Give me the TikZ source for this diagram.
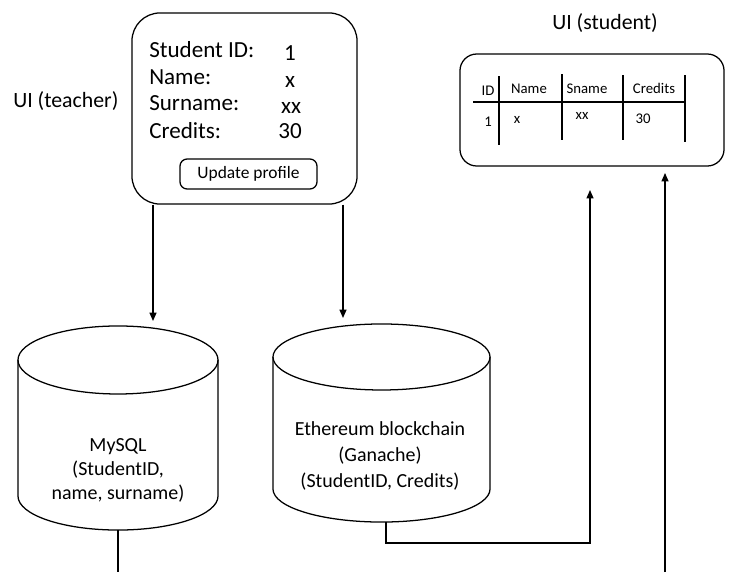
\documentclass[tikz,border=0pt]{standalone}
\usepackage{fontspec}
\setmainfont{Carlito}
\usetikzlibrary{positioning,arrows.meta}
\tikzset{
    uibox/.style={draw, line width=0.9pt},
    btn/.style={draw, line width=0.9pt, rounded corners=0.18cm, minimum width=3.425cm, minimum height=0.75cm, font=\fontsize{12.4}{14}\selectfont},
    db/.style={inner sep=0pt, outer sep=0pt},
    field/.style={anchor=base west, inner sep=0pt, font=\fontsize{16.4}{19}\selectfont},
    value/.style={anchor=base, inner sep=0pt, font=\fontsize{16.4}{19}\selectfont},
    cell/.style={anchor=base, inner sep=0pt, font=\fontsize{10.5}{12}\selectfont},
    dbtext/.style={align=center, inner sep=0pt, font=\fontsize{14.2}{17}\selectfont},
    uilabel/.style={anchor=base west, inner sep=0pt, font=\fontsize{15.5}{18}\selectfont},
    arrow/.style={line width=0.9pt, -{Triangle[length=6pt,width=5pt]}}
}
% outline of a database drum round a named node: name, x radius, y radius
\newcommand{\dbdrum}[3]{%
    \draw[line width=0.9pt] ([yshift=-#3]#1.north west) -- ([yshift=#3]#1.south west)
        arc[start angle=180, end angle=360, x radius=#2, y radius=#3]
        -- ([yshift=-#3]#1.north east);
    \draw[line width=0.9pt] ([yshift=-#3]#1.north) ellipse[x radius=#2, y radius=#3];
}
\begin{document}
\begin{tikzpicture}[x=0.025cm, y=-0.025cm]
    \useasboundingbox (0,0) rectangle (734,572);

    % teacher side
    \node[uilabel] (uiteacher) at (13,107) {UI (teacher)};
    \node[uibox, rounded corners=0.7cm, minimum width=5.625cm, minimum height=4.775cm] (teacher) at (244.5,108.5) {};
    \node[field] (fid) at (149,57) {Student ID:};
    \node[field] (fname) at (149,84) {Name:};
    \node[field] (fsname) at (149,110) {Surname:};
    \node[field] (fcred) at (149,138) {Credits:};
    \node[value] (vid) at (290,60) {1};
    \node[value] (vname) at (290,87) {x};
    \node[value] (vsname) at (291,113) {xx};
    \node[value] (vcred) at (290,138) {30};
    \node[btn] (update) at (248.5,174) {Update profile};

    % student side
    \node[uilabel] (uistudent) at (552,29) {UI (student)};
    \node[uibox, rounded corners=0.42cm, minimum width=6.6cm, minimum height=2.8cm] (student) at (592,110) {};
    \draw[line width=0.9pt] (473,102) -- (685,102);
    \draw[line width=0.9pt] (499,76) -- (499,145);
    \draw[line width=0.9pt] (562,74) -- (562,140);
    \draw[line width=0.9pt] (623,75) -- (623,140);
    \draw[line width=0.9pt] (685,75) -- (685,142);
    \node[cell] (hid) at (488,95) {ID};
    \node[cell] (hname) at (529,93) {Name};
    \node[cell] (hsname) at (587,93) {Sname};
    \node[cell] (hcred) at (654,93) {Credits};
    \node[cell] (cid) at (488,126) {1};
    \node[cell] (cname) at (517,123) {x};
    \node[cell] (csname) at (582,119) {xx};
    \node[cell] (ccred) at (643,123) {30};

    % storage
    \node[db, minimum width=5cm, minimum height=5.1cm] (mysql) at (118,428) {};
    \dbdrum{mysql}{2.5cm}{0.85cm}
    \node[dbtext] (mysqltext) at (118,470) {MySQL\\(StudentID,\\name, surname)};
    \node[db, minimum width=5.425cm, minimum height=4.95cm] (eth) at (381.5,423) {};
    \dbdrum{eth}{2.7125cm}{0.825cm}
    \node[dbtext, font=\fontsize{14.2}{18.5}\selectfont] (ethtext) at (380,456) {Ethereum blockchain\\(Ganache)\\(StudentID, Credits)};

    % connectors
    \coordinate (mysqlin) at (153,321);
    \coordinate (ethin) at (343,318);
    \coordinate (ethout) at (386,0);
    \coordinate (stuin) at (590,190);
    \coordinate (stuin2) at (665,173);
    \coordinate (below1) at (118,572);
    \coordinate (below2) at (665,572);

    \draw[arrow] (teacher.south -| mysqlin) -- (mysqlin);
    \draw[arrow] (teacher.south -| ethin) -- (ethin);
    \draw[arrow] (eth.south -| ethout) -- ++(0,21) -| (stuin);
    \draw[arrow] (below2) -- (stuin2);
    \draw[line width=0.9pt] (mysql.south) -- (below1);
\end{tikzpicture}
\end{document}
